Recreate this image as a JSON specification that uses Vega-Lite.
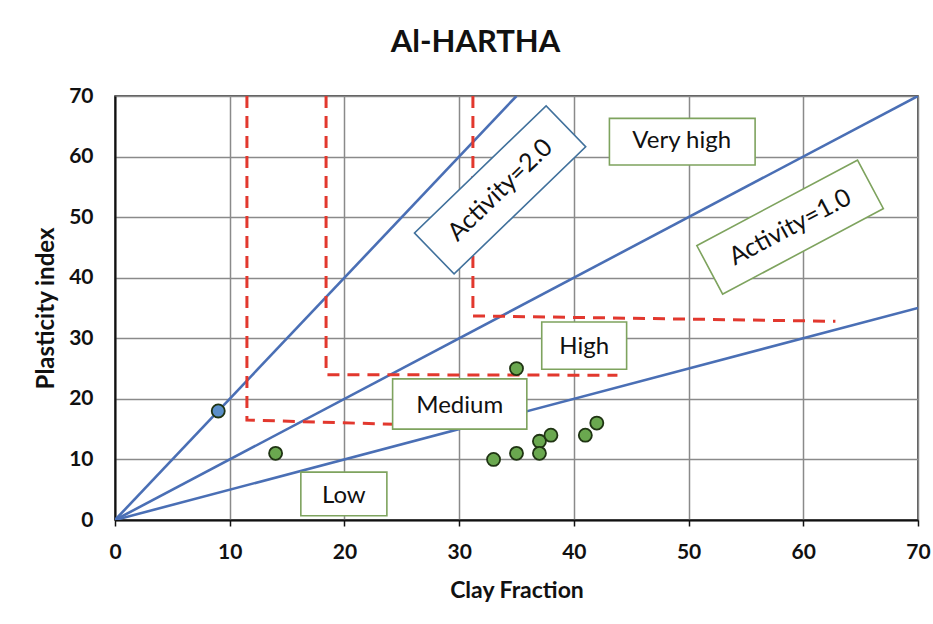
{
  "$schema": "https://vega.github.io/schema/vega-lite/v6.json",
  "width": 803,
  "height": 424,
  "autosize": "none",
  "padding": {"left": 115, "top": 96, "right": 15, "bottom": 104},
  "background": "white",
  "title": {"text": "Al-HARTHA", "font": "Lato", "fontSize": 31, "fontWeight": "bold", "color": "#111111", "anchor": "middle", "dx": -41, "offset": 38, "dy": 43, "baseline": "bottom"},
  "config": {"view": {"stroke": "#222222", "strokeWidth": 1.5}, "font": "Lato"},
  "datasets": {
    "activity": [
      {"line": "A2", "x": 0, "y": 0}, {"line": "A2", "x": 35, "y": 70},
      {"line": "A1", "x": 0, "y": 0}, {"line": "A1", "x": 70, "y": 70},
      {"line": "A05", "x": 0, "y": 0}, {"line": "A05", "x": 70, "y": 35}
    ],
    "bounds": [
      {"b": "B1", "o": 1, "x": 11.5, "y": 70}, {"b": "B1", "o": 2, "x": 11.5, "y": 16.5}, {"b": "B1", "o": 3, "x": 24.5, "y": 15.8},
      {"b": "B2", "o": 1, "x": 18.4, "y": 70}, {"b": "B2", "o": 2, "x": 18.4, "y": 24}, {"b": "B2", "o": 3, "x": 43.8, "y": 23.9},
      {"b": "B3", "o": 1, "x": 31.2, "y": 70}, {"b": "B3", "o": 2, "x": 31.2, "y": 33.7}, {"b": "B3", "o": 3, "x": 62.8, "y": 32.8}
    ],
    "samples": [
      {"g": "blue", "x": 9, "y": 18},
      {"g": "green", "x": 14, "y": 11},
      {"g": "green", "x": 33, "y": 10},
      {"g": "green", "x": 35, "y": 11},
      {"g": "green", "x": 35, "y": 25},
      {"g": "green", "x": 37, "y": 13},
      {"g": "green", "x": 37, "y": 11},
      {"g": "green", "x": 38, "y": 14},
      {"g": "green", "x": 41, "y": 14},
      {"g": "green", "x": 42, "y": 16}
    ],
    "boxes": [
      {"label": "Very high", "x": 43.1, "x2": 55.8, "y": 66.3, "y2": 58.6, "tx": 49.4, "ty": 62.5},
      {"label": "High", "x": 37.2, "x2": 44.6, "y": 32.7, "y2": 24.9, "tx": 40.9, "ty": 28.6},
      {"label": "Medium", "x": 24.2, "x2": 35.9, "y": 23.3, "y2": 15.0, "tx": 30.05, "ty": 18.9},
      {"label": "Low", "x": 16.2, "x2": 23.7, "y": 7.9, "y2": 0.7, "tx": 19.95, "ty": 4.0}
    ],
    "act2": [{"label": "Activity=2.0", "x": 33.57, "y": 54.5}],
    "act1": [{"label": "Activity=1.0", "x": 58.85, "y": 48.35}]
  },
  "layer": [
    {
      "data": {"name": "activity"},
      "mark": {"type": "line", "color": "#4a6fb5", "strokeWidth": 2.6, "clip": true},
      "encoding": {
        "x": {"field": "x", "type": "quantitative", "scale": {"domain": [0, 70], "nice": false},
          "axis": {"title": "Clay Fraction", "values": [0, 10, 20, 30, 40, 50, 60, 70], "grid": true, "gridColor": "#8a8a8a", "gridWidth": 1.5,
            "domainColor": "#111111", "domainWidth": 2, "tickColor": "#111111", "tickSize": 6, "tickWidth": 1.5,
            "labelFont": "Lato", "labelFontSize": 21, "labelFontWeight": "bold", "labelColor": "#111111", "labelPadding": 15, "labelFlush": false,
            "titleFont": "Lato", "titleFontSize": 23, "titleFontWeight": "bold", "titleColor": "#111111", "titlePadding": 17}},
        "y": {"field": "y", "type": "quantitative", "scale": {"domain": [0, 70], "nice": false},
          "axis": {"title": "Plasticity index", "values": [0, 10, 20, 30, 40, 50, 60, 70], "grid": true, "gridColor": "#8a8a8a", "gridWidth": 1.5,
            "domainColor": "#111111", "domainWidth": 2, "ticks": false, "tickSize": 0,
            "labelFont": "Lato", "labelFontSize": 21, "labelFontWeight": "bold", "labelColor": "#111111", "labelPadding": 22, "labelFlush": false,
            "titleFont": "Lato", "titleFontSize": 24, "titleFontWeight": "bold", "titleColor": "#111111", "titlePadding": 10}},
        "detail": {"field": "line"}
      }
    },
    {
      "data": {"name": "bounds"},
      "mark": {"type": "line", "color": "#e2382e", "strokeWidth": 3, "strokeDash": [12, 8]},
      "encoding": {
        "x": {"field": "x", "type": "quantitative"},
        "y": {"field": "y", "type": "quantitative"},
        "detail": {"field": "b"},
        "order": {"field": "o"}
      }
    },
    {
      "data": {"name": "samples"},
      "mark": {"type": "point", "filled": true, "size": 170, "stroke": "#1f3413", "strokeWidth": 1.8, "opacity": 1},
      "encoding": {
        "x": {"field": "x", "type": "quantitative"},
        "y": {"field": "y", "type": "quantitative"},
        "fill": {"field": "g", "type": "nominal", "scale": {"domain": ["blue", "green"], "range": ["#5b8fc9", "#6aa84f"]}, "legend": null}
      }
    },
    {
      "data": {"name": "boxes"},
      "mark": {"type": "rect", "fill": "white", "stroke": "#7ea35e", "strokeWidth": 1.6},
      "encoding": {
        "x": {"field": "x", "type": "quantitative"},
        "x2": {"field": "x2"},
        "y": {"field": "y", "type": "quantitative"},
        "y2": {"field": "y2"}
      }
    },
    {
      "data": {"name": "boxes"},
      "mark": {"type": "text", "font": "Lato", "fontSize": 24, "color": "#111111", "align": "center", "baseline": "middle"},
      "encoding": {
        "x": {"field": "tx", "type": "quantitative"},
        "y": {"field": "ty", "type": "quantitative"},
        "text": {"field": "label"}
      }
    },
    {
      "data": {"name": "act2"},
      "mark": {"type": "point", "shape": "M-9.15,-2.85L9.15,-2.85L9.15,2.85L-9.15,2.85Z", "size": 400, "angle": 316, "filled": true, "fill": "white", "stroke": "#41719c", "strokeWidth": 1.6, "opacity": 1},
      "encoding": {
        "x": {"field": "x", "type": "quantitative"},
        "y": {"field": "y", "type": "quantitative"}
      }
    },
    {
      "data": {"name": "act2"},
      "mark": {"type": "text", "font": "Lato", "fontSize": 25, "color": "#111111", "align": "center", "baseline": "middle", "angle": 316},
      "encoding": {
        "x": {"field": "x", "type": "quantitative"},
        "y": {"field": "y", "type": "quantitative"},
        "text": {"field": "label"}
      }
    },
    {
      "data": {"name": "act1"},
      "mark": {"type": "point", "shape": "M-9.1,-2.75L9.1,-2.75L9.1,2.75L-9.1,2.75Z", "size": 400, "angle": 332, "filled": true, "fill": "white", "stroke": "#7ea35e", "strokeWidth": 1.6, "opacity": 1},
      "encoding": {
        "x": {"field": "x", "type": "quantitative"},
        "y": {"field": "y", "type": "quantitative"}
      }
    },
    {
      "data": {"name": "act1"},
      "mark": {"type": "text", "font": "Lato", "fontSize": 25, "color": "#111111", "align": "center", "baseline": "middle", "angle": 332},
      "encoding": {
        "x": {"field": "x", "type": "quantitative"},
        "y": {"field": "y", "type": "quantitative"},
        "text": {"field": "label"}
      }
    }
  ]
}
